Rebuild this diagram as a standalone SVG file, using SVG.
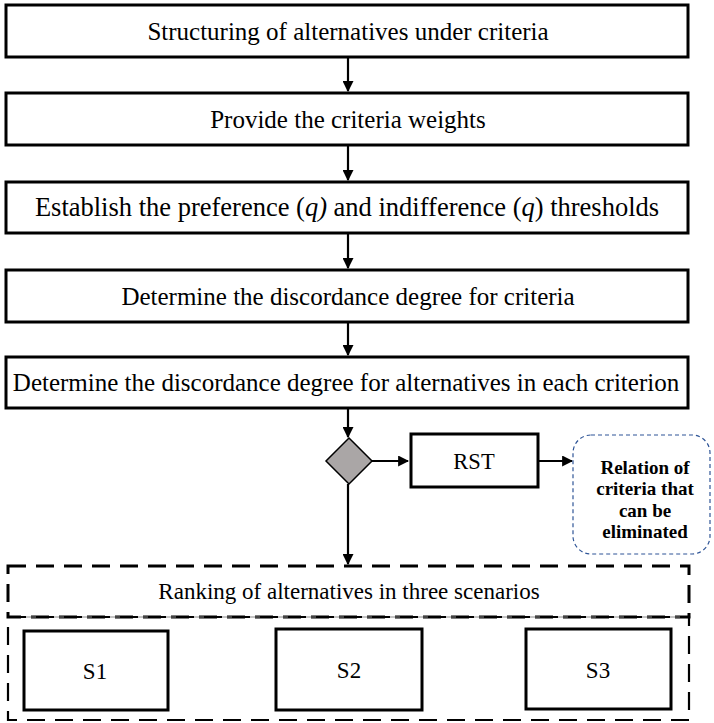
<svg xmlns="http://www.w3.org/2000/svg" width="714" height="723" viewBox="0 0 714 723">
<style>
text{font-family:'Liberation Serif','Times New Roman',serif;fill:#000;text-anchor:middle}
.box{fill:#fff;stroke:#000;stroke-width:3}
.t{font-size:25px}
.tl{font-size:26.5px}
.tm{font-size:23px}
.ts{font-size:22.5px}
.tb{font-size:19px;font-weight:bold}
.c{stroke:#000;stroke-width:2.2;fill:none}
</style>
<defs>
<marker id="ah" viewBox="0 0 10 10" refX="9" refY="5" markerWidth="5" markerHeight="5" orient="auto" markerUnits="strokeWidth">
<path d="M0,0 L10,5 L0,10 z" fill="#000"/>
</marker>
</defs>
<g id="connectors">
<line class="c" x1="348" y1="58" x2="348" y2="91" marker-end="url(#ah)"/>
<line class="c" x1="348" y1="146" x2="348" y2="180" marker-end="url(#ah)"/>
<line class="c" x1="348" y1="234" x2="348" y2="268" marker-end="url(#ah)"/>
<line class="c" x1="348" y1="323" x2="348" y2="355" marker-end="url(#ah)"/>
<line class="c" x1="348" y1="409" x2="348" y2="437" marker-end="url(#ah)"/>
<line class="c" x1="372" y1="461" x2="408" y2="461" marker-end="url(#ah)"/>
<line class="c" x1="538" y1="461" x2="572" y2="461" marker-end="url(#ah)"/>
<line class="c" x1="348" y1="484" x2="348" y2="564" marker-end="url(#ah)"/>
</g>
<g id="n1"><rect class="box" x="6" y="5" width="682" height="52"/><text class="t" x="348" y="40">Structuring of alternatives under criteria</text></g>
<g id="n2"><rect class="box" x="6" y="93" width="682" height="52"/><text class="t" x="348" y="128">Provide the criteria weights</text></g>
<g id="n3"><rect class="box" x="6" y="182" width="682" height="51"/><text class="tl" x="347" y="216">Establish the preference (<tspan font-style="italic">q)</tspan> and indifference (<tspan font-style="italic">q</tspan>) thresholds</text></g>
<g id="n4"><rect class="box" x="6" y="270" width="682" height="52"/><text class="t" x="348" y="305">Determine the discordance degree for criteria</text></g>
<g id="n5"><rect class="box" x="6" y="357" width="682" height="51"/><text class="t" x="346" y="391">Determine the discordance degree for alternatives in each criterion</text></g>
<g id="decision"><polygon points="349,438 372,461 349,484 326,461" fill="#aaa6a6" stroke="#000" stroke-width="1.5"/></g>
<g id="rst"><rect class="box" x="411" y="434" width="127" height="53"/><text class="ts" x="474" y="469">RST</text></g>
<g id="relation"><rect x="573" y="435" width="137" height="119" rx="18" fill="#fff" stroke="#2f5597" stroke-width="1.2" stroke-dasharray="4,3"/>
<text class="tb" x="645" y="474">Relation of</text>
<text class="tb" x="645" y="495">criteria that</text>
<text class="tb" x="645" y="517">can be</text>
<text class="tb" x="645" y="538">eliminated</text></g>
<g id="ranking">
<rect x="8" y="566" width="681" height="51" fill="none" stroke="#000" stroke-width="3" stroke-dasharray="18,10"/>
<line x1="8" y1="617" x2="689" y2="617" stroke="#888" stroke-width="1"/>
<rect x="8" y="617" width="681" height="103" fill="none" stroke="#000" stroke-width="2.2" stroke-dasharray="18,10"/>
<text class="tm" x="349" y="599">Ranking of alternatives in three scenarios</text>
</g>
<g id="s1"><rect class="box" x="24" y="631" width="144" height="79"/><text class="tm" x="95" y="679">S1</text></g>
<g id="s2"><rect class="box" x="276" y="629" width="146" height="81"/><text class="tm" x="349" y="678">S2</text></g>
<g id="s3"><rect class="box" x="526" y="629" width="145" height="80"/><text class="tm" x="598" y="678">S3</text></g>
</svg>
